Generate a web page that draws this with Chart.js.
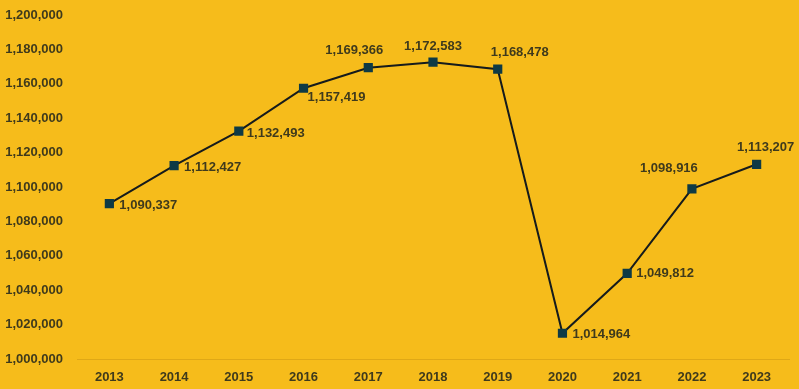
<!DOCTYPE html>
<html>
<head>
<meta charset="utf-8">
<script src="https://cdn.jsdelivr.net/npm/chart.js@4"></script>
<style>
  html, body { margin: 0; padding: 0; background: #F6BC1B; }
  #wrap { width: 799px; height: 389px; }
</style>
</head>
<body>
<div id="wrap"><canvas id="lineChart" width="799" height="389"></canvas></div>
<script>
const years = ['2013', '2014', '2015', '2016', '2017', '2018', '2019', '2020', '2021', '2022', '2023'];
const values = [1090337, 1112427, 1132493, 1157419, 1169366, 1172583, 1168478, 1014964, 1049812, 1098916, 1113207];
const yMin = 1000000;
const yMax = 1200000;
const yStep = 20000;

const textColor = '#3f3a1c';
const font = { family: 'Liberation Sans', weight: 'bold', size: 13 };

// where each value label sits relative to its point: [dx, dy, align]
const labelPlace = [
  [10, 2, 'left'], [10, 2, 'left'], [8, 2, 'left'], [4, 9, 'left'],
  [-14, -17, 'center'], [0, -16, 'center'], [22, -17, 'center'],
  [10, 1, 'left'], [9, 0, 'left'], [-23, -20, 'center'], [9, -17, 'center']
];

const valueLabels = {
  id: 'valueLabels',
  afterDatasetsDraw(chart) {
    const ctx = chart.ctx;
    const meta = chart.getDatasetMeta(0);
    ctx.save();
    ctx.font = 'bold 13px "Liberation Sans"';
    ctx.fillStyle = textColor;
    ctx.textBaseline = 'middle';
    meta.data.forEach((pt, i) => {
      const p = labelPlace[i];
      ctx.textAlign = p[2];
      ctx.fillText(values[i].toLocaleString('en-US'), pt.x + p[0], pt.y + p[1]);
    });
    ctx.restore();
  }
};

let ctxLine = document.getElementById('lineChart').getContext('2d');
let lineChart = new Chart(ctxLine, {
  type: 'line',
  data: {
    labels: years,
    datasets: [{
      data: values,
      borderColor: '#161b1c',
      borderWidth: 2,
      tension: 0,
      pointStyle: 'rect',
      pointRadius: 6.5,
      pointBackgroundColor: '#0e3a45',
      pointBorderColor: '#0e3a45',
      pointBorderWidth: 0
    }]
  },
  options: {
    responsive: false,
    animation: false,
    layout: { padding: { top: 15, right: 10, left: 2, bottom: 0 } },
    plugins: {
      legend: { display: false },
      tooltip: { enabled: false }
    },
    scales: {
      x: {
        offset: true,
        grid: { display: false, drawTicks: false },
        border: { display: true, color: 'rgba(120, 80, 0, 0.18)', width: 1 },
        ticks: { color: textColor, font, padding: 11 },
        afterFit(scale) { scale.height = 30; }
      },
      y: {
        min: yMin,
        max: yMax,
        grid: { display: false, drawTicks: false },
        border: { display: false },
        ticks: {
          stepSize: yStep,
          color: textColor,
          font,
          padding: 14,
          callback: v => v.toLocaleString('en-US')
        },
        afterFit(scale) {
          scale.width = 75;
          scale.paddingTop = 0;
          scale.paddingBottom = 0;
        }
      }
    }
  },
  plugins: [valueLabels]
});
</script>
</body>
</html>
